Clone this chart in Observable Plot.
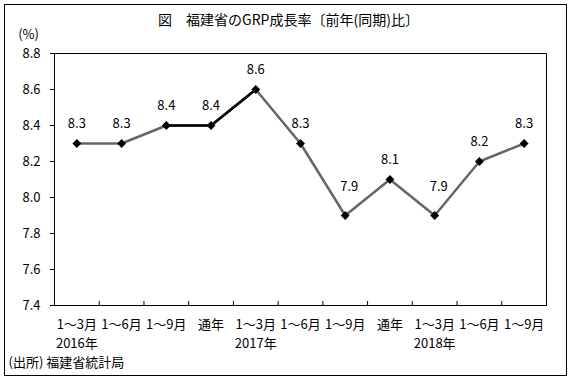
<!DOCTYPE html>
<html><head><meta charset="utf-8">
<script src="https://cdn.jsdelivr.net/npm/d3@7"></script>
<script src="https://cdn.jsdelivr.net/npm/@observablehq/plot@0.6"></script>
<style>
body{margin:0;background:#fff;}
#wrap{position:relative;width:570px;height:381px;}
#border{position:absolute;left:4px;top:4px;width:561px;height:370px;border:1px solid #000;pointer-events:none;}
#wrap svg{position:absolute;left:0;top:0;}
</style></head><body><div id="wrap"><div id="border"></div></div>
<script>
const title = "図　福建省のGRP成長率〔前年(同期)比〕";
const unitLabel = "(%)";
const source = "(出所) 福建省統計局";
const periods = ["1～3月","1～6月","1～9月","通年","1～3月","1～6月","1～9月","通年","1～3月","1～6月","1～9月"];
const values = [8.3, 8.3, 8.4, 8.4, 8.6, 8.3, 7.9, 8.1, 7.9, 8.2, 8.3];
const years = ["2016年", "2017年", "2018年"];
const yearStart = [0, 4, 8];
const highlight = [2, 3, 4];
const yTicks = [7.4, 7.6, 7.8, 8.0, 8.2, 8.4, 8.6, 8.8];

const data = values.map((v, i) => ({i, v, period: periods[i]}));
const isMin = d => d.i > 0 && d.i < values.length - 1 && d.v < values[d.i - 1] && d.v < values[d.i + 1];
const boundaries = d3.range(0.5, periods.length - 1, 1);
const font = "'Noto Sans CJK JP', sans-serif";

const chart = Plot.plot({
  width: 570, height: 381,
  marginLeft: 54, marginRight: 24, marginTop: 53, marginBottom: 76,
  style: {fontFamily: font, fontSize: "13px", background: "transparent", color: "#000"},
  x: {type: "linear", domain: [-0.5, periods.length - 0.5], axis: null},
  y: {domain: [7.4, 8.8], axis: null},
  marks: [
    Plot.frame({stroke: "#000", strokeWidth: 1}),
    Plot.axisY({ticks: yTicks, tickSize: 4, tickPadding: 10, tickFormat: d => d.toFixed(1), label: null, fontSize: 13, stroke: "#000"}),
    Plot.axisX({ticks: boundaries, tickSize: -4, tickFormat: () => "", label: null, stroke: "#000"}),
    Plot.line(data, {x: "i", y: "v", stroke: "#666", strokeWidth: 2.5}),
    Plot.line(data.filter(d => highlight.includes(d.i)), {x: "i", y: "v", stroke: "#000", strokeWidth: 2.5}),
    Plot.dot(data, {x: "i", y: "v", symbol: "diamond2", r: 4, fill: "#000", stroke: "none"}),
    Plot.text(data.filter(d => !isMin(d)), {x: "i", y: "v", text: d => d.v.toFixed(1), dy: -20, lineAnchor: "middle"}),
    Plot.text(data.filter(isMin), {x: "i", y: "v", text: d => d.v.toFixed(1), dx: 4, dy: -29, lineAnchor: "middle"}),
    Plot.text(data, {x: "i", text: "period", frameAnchor: "bottom", dy: 19, lineAnchor: "middle"}),
    Plot.text(years, {x: (d, k) => yearStart[k], text: d => d, frameAnchor: "bottom", dy: 38, lineAnchor: "middle"}),
    Plot.text([title], {text: d => d, frameAnchor: "top", dx: -12, dy: -33, lineAnchor: "middle", fontSize: 14}),
    Plot.text([unitLabel], {text: d => d, frameAnchor: "top-left", dx: -26, dy: -19, textAnchor: "middle", lineAnchor: "middle"}),
    Plot.text([source], {text: d => d, frameAnchor: "bottom-left", dx: -46, dy: 57, textAnchor: "start", lineAnchor: "middle"})
  ]
});
document.getElementById("wrap").appendChild(chart);
</script></body></html>
